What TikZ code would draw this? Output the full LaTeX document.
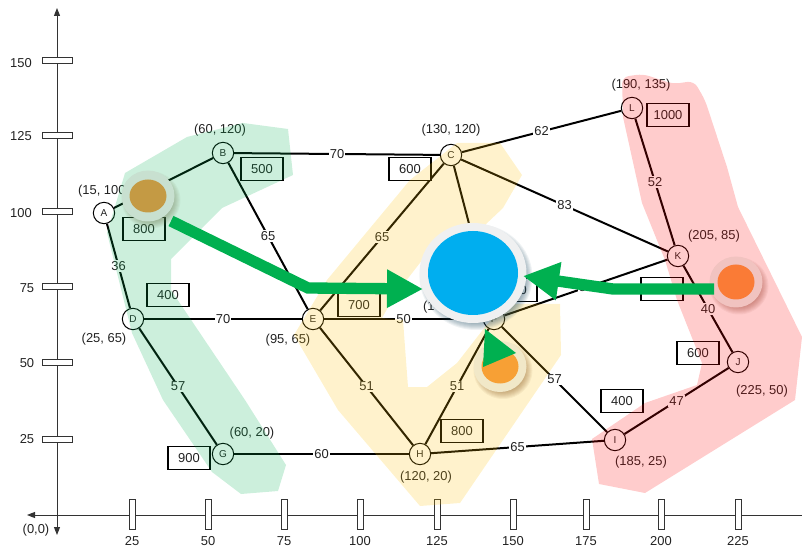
\documentclass[tikz,border=0pt]{standalone}
\usepackage{fontspec}
\setmainfont{Liberation Sans}
\usetikzlibrary{arrows.meta}
\definecolor{edgecol}{HTML}{000000}
\definecolor{txt}{HTML}{222222}
\definecolor{grn}{HTML}{00B050}
\definecolor{amber}{HTML}{FFC000}
\definecolor{shBlue}{HTML}{1E4A60}
\definecolor{shBrown}{HTML}{8A5A1E}
\definecolor{shGreen}{HTML}{6E7A50}
\definecolor{shRed}{HTML}{A04030}
\tikzset{
  px/.style={x=0.75pt,y=-0.75pt},
  axisline/.style={draw=black!80,line width=0.75pt},
  tickbox/.style={draw=black!80,fill=white,line width=0.75pt,inner sep=0pt,rectangle},
  tickv/.style={tickbox,minimum width=22.5pt,minimum height=4.5pt},
  tickh/.style={tickbox,minimum width=4.5pt,minimum height=22.5pt},
  lab/.style={font=\fontsize{9.7pt}{11pt}\selectfont,text=txt,inner sep=0pt},
  vert/.style={circle,draw=black,fill=white,line width=0.75pt,minimum size=16pt,inner sep=0pt,font=\fontsize{7.5pt}{9pt}\selectfont,text=txt},
  valbox/.style={rectangle,draw=black,fill=white,line width=0.9pt,minimum width=31.5pt,minimum height=17.5pt,inner sep=0pt,font=\fontsize{9.7pt}{11pt}\selectfont,text=txt},
  link/.style={draw=edgecol,line width=1.5pt},
  wt/.style={midway,fill=white,inner sep=0.8pt,font=\fontsize{9.7pt}{11pt}\selectfont,text=txt},
  blob/.style={opacity=.2,draw=none},
  bigarrow/.style={draw=grn,line width=8.5pt,-{Triangle[length=27pt,width=27pt]}},
  axtip/.style={-{Triangle[length=6pt,width=4.5pt]}},
}
\newcommand{\softshadow}[5]{% x y rx ry colour
  \foreach \k in {0,1,...,7}{
    \fill[#5,opacity=.07] (#1+3,#2+4) ellipse ({#3+3-\k} and {#4+3-\k});
  }
}
\begin{document}
\begin{tikzpicture}[px]
\useasboundingbox (0,0) rectangle (802,548);
% axes
\coordinate (xr) at (802,515); \coordinate (xl) at (27,515);
\coordinate (yt) at (57,8); \coordinate (yb) at (57,535); \coordinate (o) at (57,515);
\draw[axisline,axtip] (xr) -- (xl);
\draw[axisline,axtip] (o) -- (yt);
\draw[axisline,axtip] (o) -- (yb);
\foreach \y/\ly/\t/\lx in {61/63.5/150/21,136/135.7/125/21,212/212.6/100/21,287/287.7/75/27,363/363.5/50/27,439/438.7/25/27}{
  \node[tickv] at (57,\y) {};
  \node[lab] at (\lx,\ly) {\t};
}
\foreach \x/\t in {132/25,208/50,284/75,360/100,437/125,513/150,586/175,661/200,738/225}{
  \node[tickh] at (\x,514) {};
  \node[lab] at (\x,541.5) {\t};
}
\node[lab] (orig) at (36,530) {(0,0)};
% vertices
\node[vert] (A) at (104,213) {A};
\node[vert] (B) at (223,153) {B};
\node[vert] (C) at (451,155) {C};
\node[vert] (D) at (133,319) {D};
\node[vert] (E) at (313,319) {E};
\node[vert] (F) at (494,319) {F};
\node[vert] (G) at (223,454) {G};
\node[vert] (H) at (420,454) {H};
\node[vert] (I) at (615,440) {I};
\node[vert] (J) at (738,362) {J};
\node[vert] (K) at (678,256) {K};
\node[vert] (L) at (632,108) {L};
% edges
\draw[link] (A) -- (B);
\draw[link] (A) -- node[wt]{36} (D);
\draw[link] (B) -- node[wt]{70} (C);
\draw[link] (B) -- node[wt]{65} (E);
\draw[link] (C) -- node[wt]{65} (E);
\draw[link] (C) -- (F);
\draw[link] (C) -- node[wt]{83} (K);
\draw[link] (C) -- node[wt]{62} (L);
\draw[link] (D) -- node[wt]{70} (E);
\draw[link] (D) -- node[wt]{57} (G);
\draw[link] (E) -- node[wt]{50} (F);
\draw[link] (E) -- node[wt]{51} (H);
\draw[link] (F) -- node[wt]{51} (H);
\draw[link] (F) -- node[wt]{57} (I);
\draw[link] (F) -- node[wt]{58} (K);
\draw[link] (G) -- node[wt]{60} (H);
\draw[link] (H) -- node[wt]{65} (I);
\draw[link] (I) -- node[wt]{47} (J);
\draw[link] (J) -- node[wt]{40} (K);
\draw[link] (K) -- node[wt]{52} (L);
% coordinate labels
\node[lab] (la) at (104,191) {(15, 100)};
\node[lab] (lb) at (220,130) {(60, 120)};
\node[lab] (lc) at (451,130) {(130, 120)};
\node[lab] (ld) at (104,339) {(25, 65)};
\node[lab] (le) at (288,340) {(95, 65)};
\node[lab] (lf) at (449,307) {(145, 65)};
\node[lab] (lg) at (252,433) {(60, 20)};
\node[lab] (lh) at (426,477) {(120, 20)};
\node[lab] (li) at (641,462) {(185, 25)};
\node[lab] (lj) at (762,391) {(225, 50)};
\node[lab] (lk) at (714,236) {(205, 85)};
\node[lab] (ll) at (641,85) {(190, 135)};
% value boxes
\node[valbox] (v1) at (144,229) {800};
\node[valbox] (v2) at (262,169) {500};
\node[valbox] (v3) at (168,295) {400};
\node[valbox] (v4) at (410,169) {600};
\node[valbox] (v5) at (359,305) {700};
\node[valbox] (v6) at (516,290) {500};
\node[valbox] (v7) at (662,289) {};
\node[valbox] (v8) at (668,115) {1000};
\node[valbox] (v9) at (698,353) {600};
\node[valbox] (v10) at (622,401) {400};
\node[valbox] (v11) at (462,431) {800};
\node[valbox] (v12) at (189,458) {900};
% regions
\fill[blob,fill=grn] (187,137) -- (243,123) -- (288,129) -- (293,175) -- (222,208) -- (171,259) -- (171,290) -- (245,400) -- (286,465) -- (278,491) -- (241,494) -- (212,472) -- (163,400) -- (132,333) -- (107,233) -- (125,173) -- cycle;
\fill[blob,fill=amber] (560,304) -- (561,355) -- (460,503) -- (420,506) -- (338,410) -- (294,335) -- (327,280) -- (410,180) -- (457,143) -- (500,143) -- (522,175) -- (503,208) -- (485,225) -- (430,250) -- (395,295) -- (382,318) -- (403,320) -- (408,387) -- (427,387) -- (457,363) -- (485,327) -- (505,304) -- cycle;
\fill[blob,fill=red] (623,117) [rounded corners=5pt] -- (622,77) -- (643,74) -- (673,84) -- (694,81) -- (705,100) [sharp corners] -- (727,167) -- (738,207) -- (802,337) -- (795,400) -- (645,493) -- (599,484) -- (592,439) -- (645,403) -- (697,385) -- (702,363) -- (677,300) -- (665,260) -- (642,203) -- cycle;
% hubs
\softshadow{148}{196}{26.5}{25.5}{shGreen}
\fill[fill={rgb,255:red,200;green,224;blue,208}] (148,196) ellipse (26.5 and 25.5);
\fill[fill={rgb,255:red,196;green,154;blue,68}] (148,196) ellipse (18.5 and 16.5);
\softshadow{473}{273}{53.5}{50}{shBlue}
\fill[fill={rgb,255:red,239;green,240;blue,241}] (473,273) ellipse (53.5 and 50);
\fill[fill={rgb,255:red,0;green,174;blue,239}] (473,273) ellipse (45 and 42);
\softshadow{500}{366.5}{26.5}{25.5}{shBrown}
\fill[fill={rgb,255:red,241;green,232;blue,200}] (500,366.5) ellipse (26.5 and 25.5);
\fill[fill={rgb,255:red,247;green,160;blue,53}] (500,366.5) ellipse (18.5 and 17);
\softshadow{736}{282}{26.5}{25.5}{shRed}
\fill[fill={rgb,255:red,241;green,195;blue,192}] (736,282) ellipse (26.5 and 25.5);
\fill[fill={rgb,255:red,250;green,123;blue,54}] (736,282) ellipse (18.5 and 17.5);
% big arrows
\coordinate (a1s) at (171,221); \coordinate (a1m) at (308,288); \coordinate (a1e) at (423,289);
\coordinate (a2s) at (714,289); \coordinate (a2m) at (613,289); \coordinate (a2e) at (523,276);
\draw[bigarrow] (a1s) -- (a1m) -- (a1e);
\draw[bigarrow] (a2s) -- (a2m) -- (a2e);
\fill[grn] (485,329) -- (516,353) -- (483,367) -- cycle;
\end{tikzpicture}
\end{document}
